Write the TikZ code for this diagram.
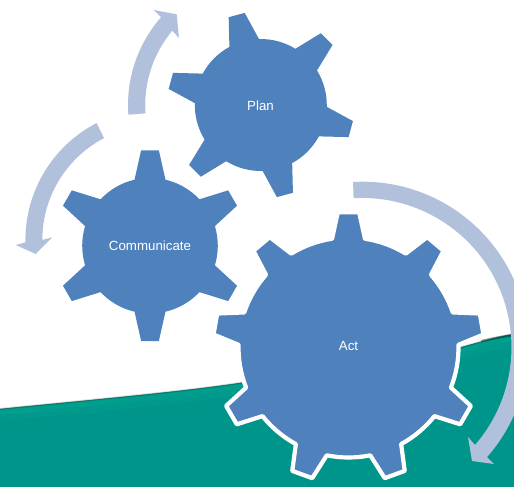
\documentclass[tikz,border=0pt]{standalone}
\usepackage{fontspec}
\setmainfont{Liberation Sans}
\definecolor{gearblue}{HTML}{4F81BD}
\definecolor{arrowblue}{HTML}{B2C1DB}
\definecolor{teal1}{HTML}{00958A}
\definecolor{teal2}{HTML}{00A38F}
\tikzset{
  gearfill/.style={fill=gearblue,draw=none},
  gearline/.style={fill=gearblue,draw=white,line width=4.2pt,line join=round},
  arrowfill/.style={fill=arrowblue,draw=none},
  gearlabel/.style={text=white,font=\fontsize{13.3}{15}\selectfont,inner sep=0pt}
}
\newcommand{\geartooth}[6]{% phase R tipR rootHalf tipHalf step
  -- ({#1-#4}:#2) -- ({#1-#5}:#3) -- ({#1+#5}:#3) -- ({#1+#4}:#2)
  arc[start angle={#1+#4},end angle={#1+#6-#4},radius=#2]
}
\newcommand{\edgecurve}{(0,409) .. controls (90,400) and (180,392) .. (240,383) .. controls (330,368) and (410,359) .. (462,347) .. controls (480,342) and (497,337) .. (514,334)}
\begin{document}
\begin{tikzpicture}[x=1pt,y=-1pt]
\useasboundingbox (0,0) rectangle (514,487);
\begin{scope}
\clip (0,0) rectangle (514,487);
% teal ground with a soft, dark upper edge
\fill[teal1] \edgecurve -- (514,487) -- (0,487) -- cycle;
\begin{scope}
\clip \edgecurve -- (514,487) -- (0,487) -- cycle;
\draw[teal2,line width=24pt,opacity=.35] \edgecurve;
\draw[teal2,line width=12pt,opacity=.6] \edgecurve;
\end{scope}
\draw[black,line width=2.4pt,opacity=.08] \edgecurve;
\draw[black,line width=1.2pt,opacity=.2] \edgecurve;
\draw[black!70!teal1,line width=2.4pt,opacity=.45,line cap=round] (482,341) .. controls (490,339) and (500,337) .. (514,335);
% arrows
\fill[arrowfill] (362.6,347.5)+(-93.3:165.8) arc[start angle=-93.3,end angle=41.4,radius=165.8] -- (494,464) -- (472,461) -- (468,437) -- (475,445) arc[start angle=40.9,end angle=-93.3,radius=149.3] -- cycle;
\fill[arrowfill] (261,105)+(175.8:133) arc[start angle=175.8,end angle=221.3,radius=133] -- (153.7,10) -- (176.7,14.3) -- (179,38) -- (172.3,30.7) arc[start angle=220,end angle=175.9,radius=115.7] -- cycle;
\fill[arrowfill] (157,240)+(242.7:131.6) arc[start angle=242.7,end angle=179,radius=131.6] -- (15.7,245) -- (35.7,254) -- (52.3,237.3) -- (42.3,240) arc[start angle=180,end angle=242.4,radius=115] -- cycle;
% gears
\begin{scope}[shift={(260.8,105)}]
\fill[gearfill] (-118.4:66)
  \geartooth{-105}{66}{93.5}{13.4}{5.1}{60}
  \geartooth{-45}{66}{93.5}{13.4}{5.1}{60}
  \geartooth{15}{66}{93.5}{13.4}{5.1}{60}
  \geartooth{75}{66}{93.5}{13.4}{5.1}{60}
  \geartooth{135}{66}{93.5}{13.4}{5.1}{60}
  \geartooth{195}{66}{93.5}{13.4}{5.1}{60} -- cycle;
\end{scope}
\begin{scope}[shift={(150,245.7)}]
\fill[gearfill] (-103.2:67.8)
  \geartooth{-90}{67.8}{95.8}{13.2}{5.3}{60}
  \geartooth{-30}{67.8}{95.8}{13.2}{5.3}{60}
  \geartooth{30}{67.8}{95.8}{13.2}{5.3}{60}
  \geartooth{90}{67.8}{95.8}{13.2}{5.3}{60}
  \geartooth{150}{67.8}{95.8}{13.2}{5.3}{60}
  \geartooth{210}{67.8}{95.8}{13.2}{5.3}{60} -- cycle;
\end{scope}
\begin{scope}[shift={(348.5,347.5)}]
\draw[gearline] (-98.6:110)
  \geartooth{-90}{110}{135.6}{8.6}{4.5}{40}
  \geartooth{-50}{110}{135.6}{8.6}{4.5}{40}
  \geartooth{-10}{110}{135.6}{8.6}{4.5}{40}
  \geartooth{30}{110}{135.6}{8.6}{4.5}{40}
  \geartooth{70}{110}{135.6}{8.6}{4.5}{40}
  \geartooth{110}{110}{135.6}{8.6}{4.5}{40}
  \geartooth{150}{110}{135.6}{8.6}{4.5}{40}
  \geartooth{190}{110}{135.6}{8.6}{4.5}{40}
  \geartooth{230}{110}{135.6}{8.6}{4.5}{40} -- cycle;
\end{scope}
\end{scope}
\node[gearlabel] (plan) at (260.5,105.5) {Plan};
\node[gearlabel] (communicate) at (150,245.5) {Communicate};
\node[gearlabel] (act) at (348.5,346) {Act};
\end{tikzpicture}
\end{document}
